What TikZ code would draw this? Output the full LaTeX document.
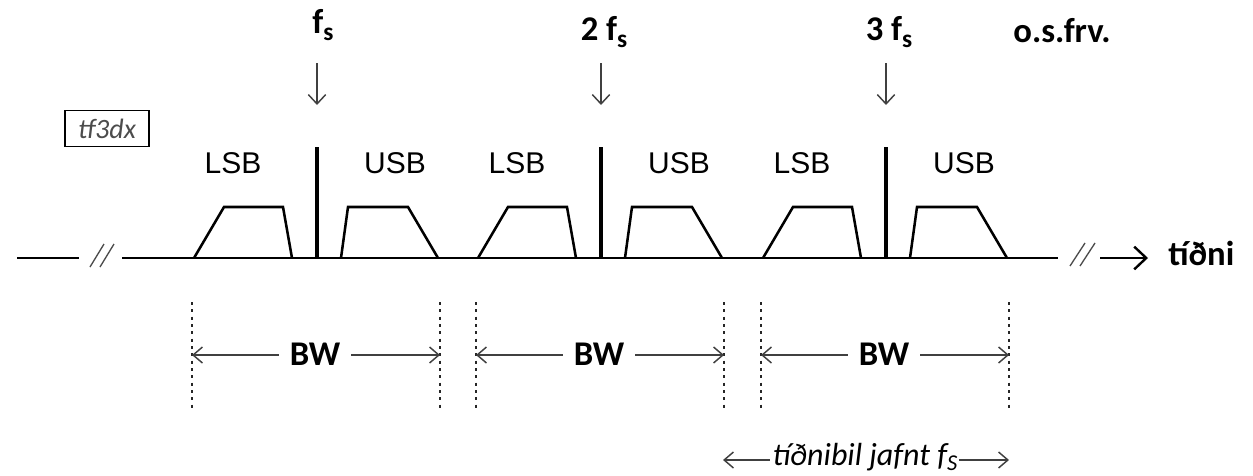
\documentclass[tikz,border=0pt]{standalone}
\usepackage{fontspec}
\newfontfamily\calfont{Carlito}
\newfontfamily\arifont{Liberation Sans}
\usetikzlibrary{arrows.meta}
\newcommand{\subsc}[1]{\raisebox{-5.5pt}{\fontsize{19pt}{19pt}\selectfont #1}}
\tikzset{
  axisline/.style={line width=2.2pt, black},
  carrier/.style={line width=3.4pt, black},
  band/.style={line width=1.9pt, black, line join=miter},
  thinarrow/.style={line width=1.1pt, draw=black!75, -{Straight Barb[length=7pt,width=12pt,line width=1.1pt]}},
  dotline/.style={line width=1.6pt, black!85, dash pattern=on 2.2pt off 3.3pt},
  brk/.style={line width=1pt, black!70},
  toplbl/.style={font=\calfont\bfseries\fontsize{26pt}{28pt}\selectfont, anchor=base, inner sep=0pt},
  sblbl/.style={font=\arifont\fontsize{22.5pt}{24pt}\selectfont, anchor=base, inner sep=0pt},
  bwlbl/.style={font=\calfont\bfseries\fontsize{26pt}{28pt}\selectfont, anchor=base, inner xsep=8pt, inner ysep=0pt},
  itlbl/.style={font=\calfont\itshape\fontsize{24pt}{26pt}\selectfont, anchor=base, inner xsep=0pt, inner ysep=0pt},
}
\begin{document}
\begin{tikzpicture}[x=0.75pt, y=-0.75pt]
\useasboundingbox (0,0) rectangle (1253,475);
% axis
\coordinate (a0) at (17,258);
\coordinate (a1) at (79,258);
\coordinate (a2) at (122,258);
\coordinate (a3) at (1058,258);
\coordinate (a4) at (1100,258);
\coordinate (a5) at (1148,258);
\draw[axisline] (a0) -- (a1);
\draw[axisline] (a2) -- (a3);
\draw[line width=1.8pt, -{Straight Barb[length=9pt,width=17pt,line width=1.8pt]}] (a4) -- (a5);
\node[toplbl, anchor=base west] (freq) at (1168,265) {tíðni};
% breaks
\draw[brk] (90,267) -- (104,244);
\draw[brk] (100,267) -- (114,244);
\draw[brk] (1070,266) -- (1085,243);
\draw[brk] (1080,266) -- (1095,243);
% label box
\node[draw=black, line width=0.8pt, font=\calfont\itshape\fontsize{21pt}{23pt}\selectfont, text=black!70, inner xsep=5pt, inner ysep=2pt, minimum width=63pt, minimum height=27pt] (tag) at (107,128.5) {tf3dx};
% carriers
\foreach \c/\n/\lx/\lby in {317/1/323/33, 601/2/604/40, 886/3/889/40} {
  \draw[carrier] (\c,147) -- (\c,258);
  \node[toplbl] (top\n) at (\lx,\lby) {\ifnum\n=1 f\else\n\ f\fi\subsc{s}};
  \coordinate (as\n) at (\c,63);
  \coordinate (ae\n) at (\c,105);
  \draw[line width=1.1pt, draw=black!75, -{Straight Barb[length=7pt,width=13pt,line width=1.1pt]}] (as\n) -- (ae\n);
  \draw[band] (\c-123,258) -- (\c-93,207) -- (\c-34,207) -- (\c-25,258);
  \draw[band] (\c+24,258) -- (\c+31,207) -- (\c+91,207) -- (\c+121,258);
  \node[sblbl] (lsb\n) at (\c-84,173) {LSB};
  \node[sblbl] (usb\n) at (\c+78,173) {USB};
  % BW
  \coordinate (dlt\n) at (\c-125,302);
  \coordinate (dlb\n) at (\c-125,411);
  \coordinate (drt\n) at (\c+123,302);
  \coordinate (drb\n) at (\c+123,411);
  \draw[dotline] (dlt\n) -- (dlb\n);
  \draw[dotline] (drt\n) -- (drb\n);
  \node[bwlbl] (bw\n) at (\c-2,365) {BW};
  \coordinate (bl\n) at (\c-125,355);
  \coordinate (br\n) at (\c+123,355);
  \draw[thinarrow] (bw\n.west |- bl\n) -- (bl\n);
  \draw[thinarrow] (bw\n.east |- br\n) -- (br\n);
}
\node[toplbl] (etc) at (1062,42) {o.s.frv.};
% spacing
\node[itlbl] (sp) at (865,465) {tíðnibil jafnt f\raisebox{-4pt}{\fontsize{17pt}{17pt}\selectfont S}};
\coordinate (spl) at (723,460);
\coordinate (spr) at (1009,460);
\draw[thinarrow] ([xshift=-2pt]sp.west |- spl) -- (spl);
\draw[thinarrow] ([xshift=1pt]sp.east |- spr) -- (spr);
\end{tikzpicture}
\end{document}
